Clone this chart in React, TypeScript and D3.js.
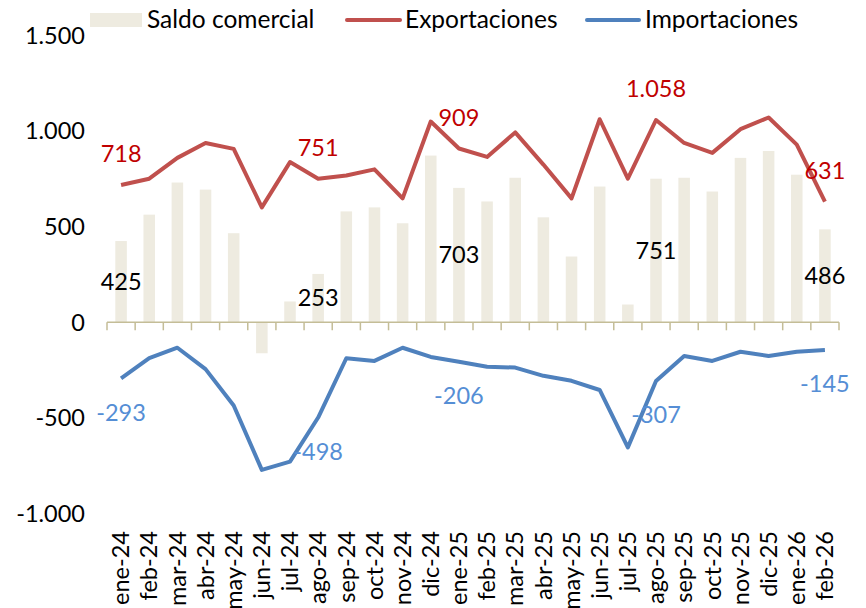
import * as d3 from 'd3'

const months = [
	'ene-24', 'feb-24', 'mar-24', 'abr-24', 'may-24', 'jun-24', 'jul-24', 'ago-24',
	'sep-24', 'oct-24', 'nov-24', 'dic-24', 'ene-25', 'feb-25', 'mar-25', 'abr-25',
	'may-25', 'jun-25', 'jul-25', 'ago-25', 'sep-25', 'oct-25', 'nov-25', 'dic-25',
	'ene-26', 'feb-26',
]

const exportaciones = [
	718, 751, 860, 938, 907, 601, 838, 751, 768, 800, 648, 1050, 909, 865, 993, 825,
	648, 1062, 751, 1058, 938, 886, 1010, 1071, 929, 631,
]

const importaciones = [
	-293, -188, -133, -245, -435, -772, -729, -498, -188, -202, -133, -181, -206, -232,
	-237, -280, -306, -354, -654, -307, -176, -202, -154, -176, -154, -145,
]

const saldo = [
	425, 563, 731, 694, 466, -162, 109, 253, 580, 601, 518, 872, 703, 632, 756, 549,
	344, 710, 93, 751, 756, 684, 860, 896, 772, 486,
]

const yTicks = [1500, 1000, 500, 0, -500, -1000]

// meses con etiqueta de datos
const labeled = [0, 7, 12, 19, 25]

const W = 866
const H = 608
const FONT = 'Lato, Carlito, Calibri, sans-serif'

const locale = d3.formatLocale({
	decimal: ',',
	thousands: '.',
	grouping: [3],
	currency: ['', '€'],
	minus: '-',
})
const fmt = locale.format(',')

export default function App() {
	const x = d3.scaleBand<string>().domain(months).range([107, 839])
	const y = d3.scaleLinear().domain([-1000, 1500]).range([513.5, 35.5])
	const bw = x.bandwidth()
	const cx = (m: string) => (x(m) as number) + bw / 2

	const line = d3
		.line<number>()
		.x((_, i) => cx(months[i]))
		.y(d => y(d))

	return (
		<svg
			width={W}
			height={H}
			style={{ position: 'absolute', left: 0, top: 0, background: '#fff' }}
			fontFamily={FONT}
		>
			{/* legend */}
			<rect x={90} y={13} width={52} height={14} fill="#EEEBE0" />
			<text x={147} y={28} fontSize={24.5} fill="#000">Saldo comercial</text>
			<line x1={347} x2={400} y1={20} y2={20} stroke="#C0504D" strokeWidth={4} strokeLinecap="round" />
			<text x={405} y={28} fontSize={24.5} fill="#000">Exportaciones</text>
			<line x1={587} x2={639} y1={20} y2={20} stroke="#4F81BD" strokeWidth={4} strokeLinecap="round" />
			<text x={645} y={28} fontSize={24.5} fill="#000">Importaciones</text>

			{/* y ticks */}
			{yTicks.map(t => (
				<text key={t} x={85} y={y(t)} dy="0.35em" textAnchor="end" fontSize={23.5} fill="#000">
					{fmt(t)}
				</text>
			))}

			{/* bars */}
			{saldo.map((v, i) => {
				const w = bw * 0.41
				return (
					<rect
						key={months[i]}
						x={cx(months[i]) - w / 2}
						y={Math.min(y(v), y(0))}
						width={w}
						height={Math.abs(y(v) - y(0))}
						fill="#EEEBE0"
					/>
				)
			})}

			{/* x axis */}
			<line x1={x.range()[0]} x2={x.range()[1]} y1={y(0)} y2={y(0)} stroke="#C4BD97" strokeWidth={1.5} />
			{months.concat(['__end']).map((m, i) => {
				const xx = x.range()[0] + i * bw
				return <line key={i} x1={xx} x2={xx} y1={y(0)} y2={y(0) + 8} stroke="#C4BD97" strokeWidth={1.5} />
			})}

			{/* lines */}
			<path d={line(exportaciones) || ''} fill="none" stroke="#C0504D" strokeWidth={4} strokeLinejoin="round" />
			<path d={line(importaciones) || ''} fill="none" stroke="#4F81BD" strokeWidth={4} strokeLinejoin="round" />

			{/* data labels */}
			{labeled.map(i => (
				<g key={i} fontSize={23.5} textAnchor="middle">
					<text x={cx(months[i])} y={y(exportaciones[i]) - 31} dy="0.35em" fill="#C00000">
						{fmt(exportaciones[i])}
					</text>
					<text x={cx(months[i])} y={(y(saldo[i]) + y(0)) / 2} dy="0.35em" fill="#000">
						{fmt(saldo[i])}
					</text>
					<text x={cx(months[i])} y={y(importaciones[i]) + 34} dy="0.35em" fill="#558ED5">
						{fmt(importaciones[i])}
					</text>
				</g>
			))}

			{/* x labels */}
			{months.map(m => (
				<text
					key={m}
					transform={`translate(${cx(m)},531) rotate(-90)`}
					dy="0.35em"
					textAnchor="end"
					fontSize={23.5}
					fill="#000"
				>
					{m}
				</text>
			))}
		</svg>
	)
}
